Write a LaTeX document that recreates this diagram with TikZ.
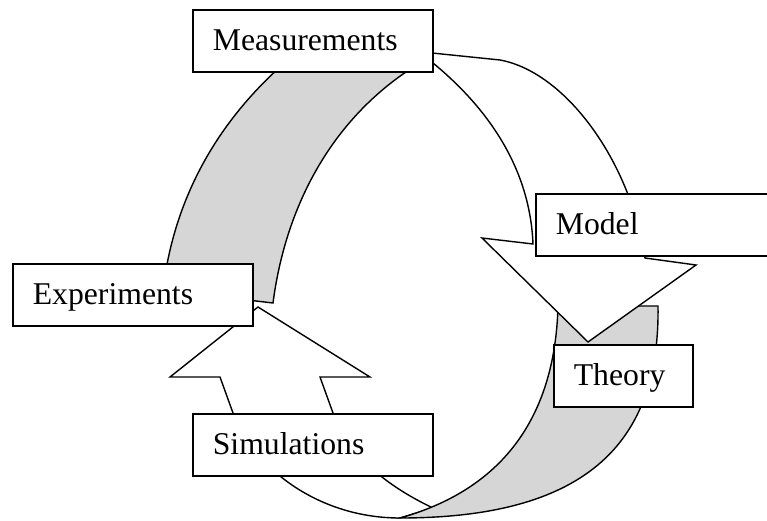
\documentclass[tikz,border=0pt]{standalone}
\usepackage{fontspec}
\setmainfont{Liberation Serif}

\begin{document}
\begin{tikzpicture}[
            x=1pt,y=-1pt,
            line join=miter
        ]
            \colorlet{shd}{black!16}
            \tikzset{
                back/.style={draw,fill=shd,line width=1.4pt},
                front/.style={draw,fill=white,line width=1.4pt},
                lbl/.style={draw,fill=white,line width=1.7pt,anchor=north west,
                    inner xsep=20pt,text width=#1,align=left,minimum height=62pt,
                    text height=24pt,text depth=4pt,font=\fontsize{31.7}{38}\selectfont}
            }
            \useasboundingbox (0,0) rectangle (767,521);

            % lower ribbon: white front with the upward head, grey back over its end
            \draw [front] (220,377) -- (233,413) .. controls (255,470) and (320,518) .. (400,518)
                -- (433,508) .. controls (395,490) and (350,460) .. (333,413)
                -- (320,377) -- (370,377) -- (258,307) -- (170,377) -- cycle;
            \draw [back] (558,306) -- (658,306)
                .. controls (660,440) and (590,518) .. (400,518)
                .. controls (500,490) and (555,420) .. (558,306) -- cycle;

            % upper ribbon: grey back, then white front with the downward head
            \draw [back] (163,290) -- (273,303)
                .. controls (285,210) and (330,115) .. (425,60)
                -- (300,50) .. controls (225,110) and (175,190) .. (163,290) -- cycle;
            \draw [front] (425,52) -- (432,53) -- (500,60)
                .. controls (565,72) and (630,160) .. (645,258)
                -- (696,265) -- (588,342) -- (482,238) -- (533,244)
                .. controls (530,170) and (490,110) .. (433,63)
                -- (425,60) -- cycle;

            % labels
            \node (meas) [lbl=200pt] at (192,9)   {Measurements};
            \node (mod)  [lbl=210pt] at (535,193) {Model};
            \node (theo) [lbl=99pt]  at (553,344) {Theory};
            \node (exp)  [lbl=200pt] at (12,263)  {Experiments};
            \node (sim)  [lbl=200pt] at (192,413) {Simulations};
\end{tikzpicture}
\end{document}
